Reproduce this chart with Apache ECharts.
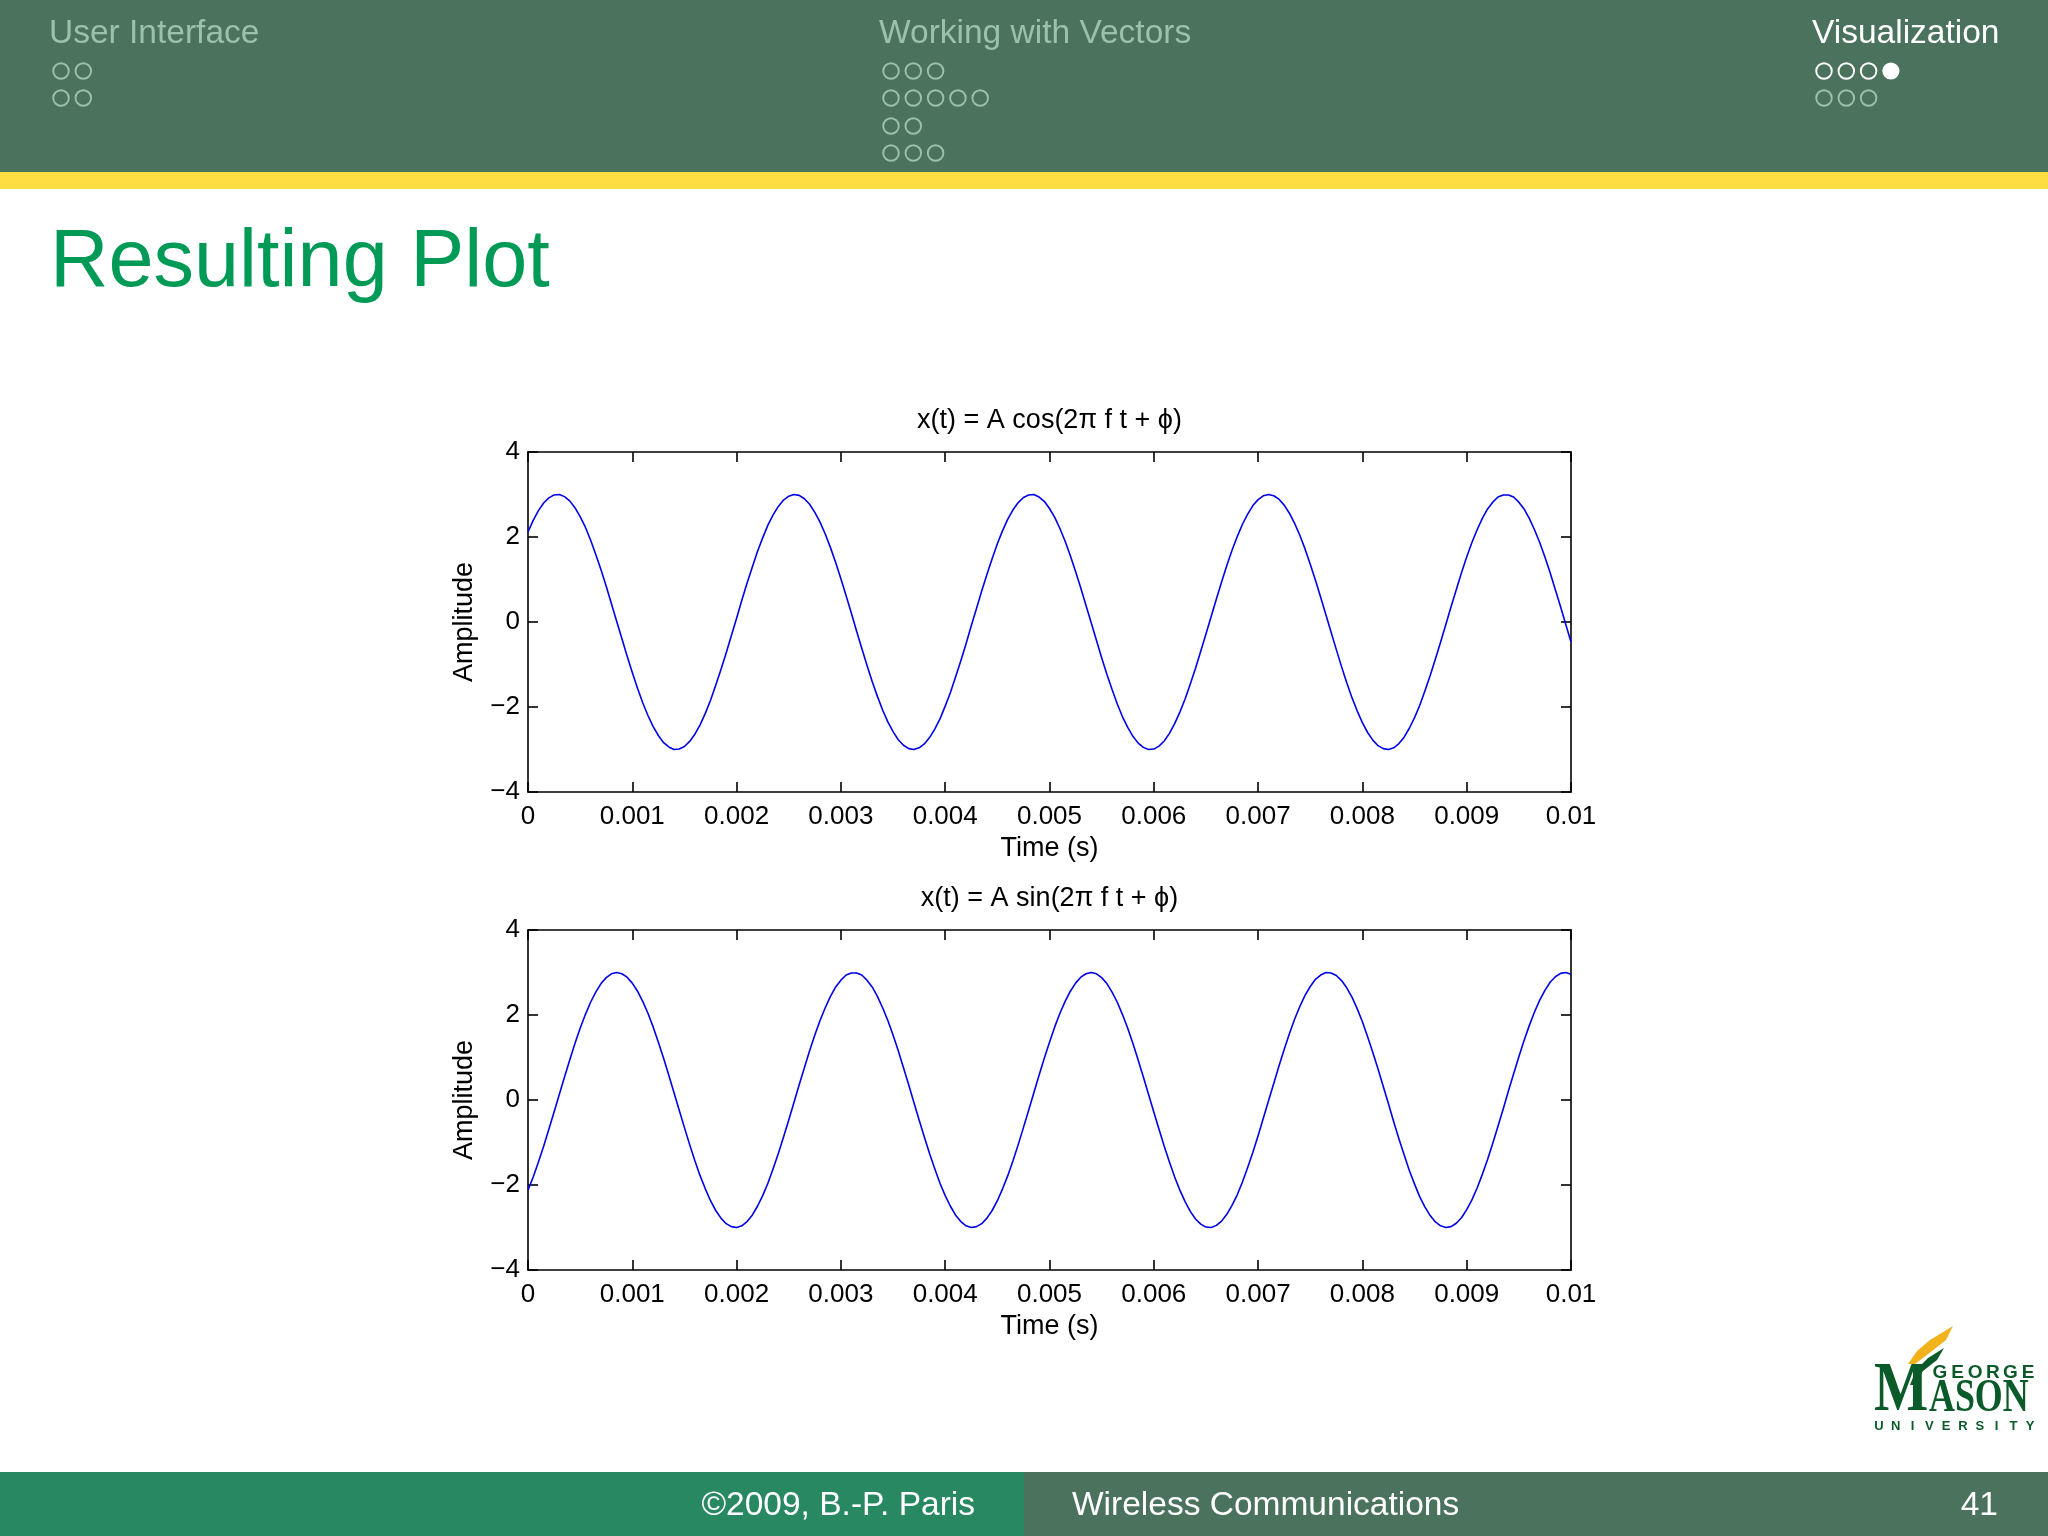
<!DOCTYPE html>
<html>
<head>
<meta charset="utf-8">
<script src="https://cdn.jsdelivr.net/npm/echarts@6/dist/echarts.min.js"></script>
<style>
html,body{margin:0;padding:0;background:#ffffff;}
#chart{width:2048px;height:1536px;}
</style>
</head>
<body>
<div id="chart"></div>
<script>
// ---------------- data ----------------
const time = [
  0,0.00005,0.0001,0.00015,0.0002,0.00025,0.0003,0.00035,0.0004,0.00045,
  0.0005,0.00055,0.0006,0.00065,0.0007,0.00075,0.0008,0.00085,0.0009,0.00095,
  0.001,0.00105,0.0011,0.00115,0.0012,0.00125,0.0013,0.00135,0.0014,0.00145,
  0.0015,0.00155,0.0016,0.00165,0.0017,0.00175,0.0018,0.00185,0.0019,0.00195,
  0.002,0.00205,0.0021,0.00215,0.0022,0.00225,0.0023,0.00235,0.0024,0.00245,
  0.0025,0.00255,0.0026,0.00265,0.0027,0.00275,0.0028,0.00285,0.0029,0.00295,
  0.003,0.00305,0.0031,0.00315,0.0032,0.00325,0.0033,0.00335,0.0034,0.00345,
  0.0035,0.00355,0.0036,0.00365,0.0037,0.00375,0.0038,0.00385,0.0039,0.00395,
  0.004,0.00405,0.0041,0.00415,0.0042,0.00425,0.0043,0.00435,0.0044,0.00445,
  0.0045,0.00455,0.0046,0.00465,0.0047,0.00475,0.0048,0.00485,0.0049,0.00495,
  0.005,0.00505,0.0051,0.00515,0.0052,0.00525,0.0053,0.00535,0.0054,0.00545,
  0.0055,0.00555,0.0056,0.00565,0.0057,0.00575,0.0058,0.00585,0.0059,0.00595,
  0.006,0.00605,0.0061,0.00615,0.0062,0.00625,0.0063,0.00635,0.0064,0.00645,
  0.0065,0.00655,0.0066,0.00665,0.0067,0.00675,0.0068,0.00685,0.0069,0.00695,
  0.007,0.00705,0.0071,0.00715,0.0072,0.00725,0.0073,0.00735,0.0074,0.00745,
  0.0075,0.00755,0.0076,0.00765,0.0077,0.00775,0.0078,0.00785,0.0079,0.00795,
  0.008,0.00805,0.0081,0.00815,0.0082,0.00825,0.0083,0.00835,0.0084,0.00845,
  0.0085,0.00855,0.0086,0.00865,0.0087,0.00875,0.0088,0.00885,0.0089,0.00895,
  0.009,0.00905,0.0091,0.00915,0.0092,0.00925,0.0093,0.00935,0.0094,0.00945,
  0.0095,0.00955,0.0096,0.00965,0.0097,0.00975,0.0098,0.00985,0.0099,0.00995,
  0.01
];
const cosValues = [
  2.12,2.39,2.62,2.80,2.92,2.99,3.00,2.95,2.85,2.69,
  2.48,2.23,1.93,1.59,1.23,0.84,0.43,0.02,-0.39,-0.80,
  -1.19,-1.56,-1.90,-2.20,-2.46,-2.67,-2.84,-2.94,-3.00,-2.99,
  -2.93,-2.81,-2.64,-2.42,-2.15,-1.84,-1.49,-1.12,-0.73,-0.32,
  0.09,0.51,0.91,1.29,1.66,1.98,2.28,2.52,2.72,2.87,
  2.96,3.00,2.98,2.90,2.77,2.58,2.35,2.07,1.75,1.40,
  1.02,0.62,0.21,-0.21,-0.62,-1.02,-1.40,-1.75,-2.07,-2.35,
  -2.58,-2.77,-2.90,-2.98,-3.00,-2.96,-2.87,-2.72,-2.52,-2.28,
  -1.98,-1.66,-1.29,-0.91,-0.51,-0.09,0.32,0.73,1.12,1.49,
  1.84,2.15,2.42,2.64,2.81,2.93,2.99,3.00,2.94,2.84,
  2.67,2.46,2.20,1.90,1.56,1.19,0.80,0.39,-0.02,-0.43,
  -0.84,-1.23,-1.59,-1.93,-2.23,-2.48,-2.69,-2.85,-2.95,-3.00,
  -2.99,-2.92,-2.80,-2.62,-2.39,-2.12,-1.81,-1.46,-1.09,-0.69,
  -0.28,0.13,0.54,0.94,1.33,1.69,2.01,2.30,2.54,2.74,
  2.88,2.97,3.00,2.97,2.89,2.75,2.56,2.32,2.04,1.72,
  1.36,0.98,0.58,0.17,-0.24,-0.65,-1.05,-1.43,-1.78,-2.09,
  -2.37,-2.60,-2.78,-2.91,-2.98,-3.00,-2.96,-2.86,-2.71,-2.50,
  -2.25,-1.96,-1.62,-1.26,-0.87,-0.47,-0.06,0.36,0.76,1.16,
  1.53,1.87,2.17,2.44,2.66,2.82,2.94,2.99,2.99,2.94,
  2.82,2.66,2.44,2.17,1.87,1.53,1.16,0.76,0.36,-0.06,
  -0.47
];
const sinValues = [
  -2.12,-1.81,-1.46,-1.09,-0.69,-0.28,0.13,0.54,0.94,1.33,
  1.69,2.01,2.30,2.54,2.74,2.88,2.97,3.00,2.97,2.89,
  2.75,2.56,2.32,2.04,1.72,1.36,0.98,0.58,0.17,-0.24,
  -0.65,-1.05,-1.43,-1.78,-2.09,-2.37,-2.60,-2.78,-2.91,-2.98,
  -3.00,-2.96,-2.86,-2.71,-2.50,-2.25,-1.96,-1.62,-1.26,-0.87,
  -0.47,-0.06,0.36,0.76,1.16,1.53,1.87,2.17,2.44,2.66,
  2.82,2.94,2.99,2.99,2.94,2.82,2.66,2.44,2.17,1.87,
  1.53,1.16,0.76,0.36,-0.06,-0.47,-0.87,-1.26,-1.62,-1.96,
  -2.25,-2.50,-2.71,-2.86,-2.96,-3.00,-2.98,-2.91,-2.78,-2.60,
  -2.37,-2.09,-1.78,-1.43,-1.05,-0.65,-0.24,0.17,0.58,0.98,
  1.36,1.72,2.04,2.32,2.56,2.75,2.89,2.97,3.00,2.97,
  2.88,2.74,2.54,2.30,2.01,1.69,1.33,0.94,0.54,0.13,
  -0.28,-0.69,-1.09,-1.46,-1.81,-2.12,-2.39,-2.62,-2.80,-2.92,
  -2.99,-3.00,-2.95,-2.85,-2.69,-2.48,-2.23,-1.93,-1.59,-1.23,
  -0.84,-0.43,-0.02,0.39,0.80,1.19,1.56,1.90,2.20,2.46,
  2.67,2.84,2.94,3.00,2.99,2.93,2.81,2.64,2.42,2.15,
  1.84,1.49,1.12,0.73,0.32,-0.09,-0.51,-0.91,-1.29,-1.66,
  -1.98,-2.28,-2.52,-2.72,-2.87,-2.96,-3.00,-2.98,-2.90,-2.77,
  -2.58,-2.35,-2.07,-1.75,-1.40,-1.02,-0.62,-0.21,0.21,0.62,
  1.02,1.40,1.75,2.07,2.35,2.58,2.77,2.90,2.98,3.00,
  2.96
];
const xTickValues = [0,0.001,0.002,0.003,0.004,0.005,0.006,0.007,0.008,0.009,0.01];
const xTickLabels = ['0','0.001','0.002','0.003','0.004','0.005','0.006','0.007','0.008','0.009','0.01'];
const yTickValues = [-4,-2,0,2,4];
const yTickLabels = ['\u22124','\u22122','0','2','4'];
const plotTitles = ['x(t) = A cos(2\u03C0 f t + \u03D5)', 'x(t) = A sin(2\u03C0 f t + \u03D5)'];
const xAxisName = 'Time (s)';
const yAxisName = 'Amplitude';

// slide text
const slideTitle = 'Resulting Plot';
const sectionNames = ['User Interface', 'Working with Vectors', 'Visualization'];
const sectionDots = [[2,2],[3,5,2,3],[4,3]];
const footerLeft = '\u00A92009, B.-P. Paris';
const footerMid = 'Wireless Communications';
const footerPage = '41';

// ---------------- layout / style ----------------
const FONT = '"Liberation Sans", Arial, Helvetica, sans-serif';
const SERIF = '"Liberation Serif", "Times New Roman", serif';
const HEADER_GREEN = '#4a725d';
const FOOTER_GREEN = '#288862';
const YELLOW = '#fedd43';
const INACTIVE = '#9cc0a9';
const TITLE_GREEN = '#009a57';

const grids = [
  {left: 528, top: 452, width: 1043, height: 340},
  {left: 528, top: 930, width: 1043, height: 340}
];

function xLabel(v){
  const i = xTickValues.findIndex(t => Math.abs(t - v) < 1e-9);
  return i >= 0 ? xTickLabels[i] : '';
}
function yLabel(v){
  const i = yTickValues.findIndex(t => Math.abs(t - v) < 1e-9);
  return i >= 0 ? yTickLabels[i] : '';
}

const axisLineStyle = {color: '#000', width: 1.6};
const xAxes = [], yAxes = [], series = [], titles = [];
const seriesValues = [cosValues, sinValues];

grids.forEach((g, gi) => {
  xAxes.push({
    type: 'value', gridIndex: gi, min: 0, max: 0.01, interval: 0.001, position: 'bottom',
    axisLine: {show: true, onZero: false, lineStyle: axisLineStyle},
    axisTick: {show: true, inside: true, length: 10, lineStyle: axisLineStyle},
    axisLabel: {show: true, formatter: xLabel, fontSize: 26, color: '#000', fontFamily: FONT, margin: 12, hideOverlap: false, showMinLabel: true, showMaxLabel: true},
    splitLine: {show: false},
    name: xAxisName, nameLocation: 'middle', nameGap: 43,
    nameTextStyle: {fontSize: 27, color: '#000', fontFamily: FONT}
  });
  xAxes.push({
    type: 'value', gridIndex: gi, min: 0, max: 0.01, interval: 0.001, position: 'top',
    axisLine: {show: true, onZero: false, lineStyle: axisLineStyle},
    axisTick: {show: true, inside: true, length: 10, lineStyle: axisLineStyle},
    axisLabel: {show: false},
    splitLine: {show: false}
  });
  yAxes.push({
    type: 'value', gridIndex: gi, min: -4, max: 4, interval: 2, position: 'left',
    axisLine: {show: true, onZero: false, lineStyle: axisLineStyle},
    axisTick: {show: true, inside: true, length: 10, lineStyle: axisLineStyle},
    axisLabel: {show: true, formatter: yLabel, fontSize: 26, color: '#000', fontFamily: FONT, margin: 8, hideOverlap: false, showMinLabel: true, showMaxLabel: true},
    splitLine: {show: false},
    name: yAxisName, nameLocation: 'middle', nameGap: 50, nameRotate: 90,
    nameTextStyle: {fontSize: 27, color: '#000', fontFamily: FONT}
  });
  yAxes.push({
    type: 'value', gridIndex: gi, min: -4, max: 4, interval: 2, position: 'right',
    axisLine: {show: true, onZero: false, lineStyle: axisLineStyle},
    axisTick: {show: true, inside: true, length: 10, lineStyle: axisLineStyle},
    axisLabel: {show: false},
    splitLine: {show: false}
  });
  series.push({
    type: 'line', xAxisIndex: gi * 2, yAxisIndex: gi * 2,
    data: time.map((t, i) => [t, seriesValues[gi][i]]),
    showSymbol: false, smooth: false, clip: true,
    lineStyle: {color: '#0000e8', width: 1.6, join: 'round'},
    silent: true
  });
  titles.push({
    text: plotTitles[gi], left: g.left + g.width / 2, top: g.top - 45, textAlign: 'center', padding: 0,
    textStyle: {fontSize: 27, fontWeight: 'normal', color: '#000', fontFamily: FONT}
  });
});

// ---------------- slide decoration (graphic) ----------------
const graphic = [];
graphic.push({type: 'rect', shape: {x: 0, y: 0, width: 2048, height: 172}, style: {fill: HEADER_GREEN}, silent: true});
graphic.push({type: 'rect', shape: {x: 0, y: 172, width: 2048, height: 17}, style: {fill: YELLOW}, silent: true});
graphic.push({type: 'rect', shape: {x: 0, y: 1472, width: 1024, height: 64}, style: {fill: FOOTER_GREEN}, silent: true});
graphic.push({type: 'rect', shape: {x: 1024, y: 1472, width: 1024, height: 64}, style: {fill: HEADER_GREEN}, silent: true});

const sectionX = [49, 879, 1812];
const activeSection = 2, activeDot = [0, 3];
const rowY = [71, 98, 126, 153];
sectionNames.forEach((name, si) => {
  const active = si === activeSection;
  graphic.push({type: 'text', silent: true, style: {
    x: sectionX[si], y: 34, text: name, font: '33.5px ' + FONT,
    fill: active ? '#ffffff' : INACTIVE, textAlign: 'left', textVerticalAlign: 'middle'}});
  sectionDots[si].forEach((n, ri) => {
    for (let k = 0; k < n; k++) {
      const isCur = active && ri === activeDot[0] && k === activeDot[1];
      const col = (active && ri === activeDot[0]) ? '#ffffff' : INACTIVE;
      graphic.push({type: 'circle', silent: true,
        shape: {cx: sectionX[si] + 12 + k * 22.3, cy: rowY[ri], r: 7.8},
        style: isCur ? {fill: '#ffffff', stroke: '#ffffff', lineWidth: 1.6} : {fill: 'none', stroke: col, lineWidth: 1.9}});
    }
  });
});

graphic.push({type: 'text', silent: true, style: {
  x: 50, y: 264, text: slideTitle, font: '81px ' + FONT, fill: TITLE_GREEN, textAlign: 'left', textVerticalAlign: 'middle'}});

graphic.push({type: 'text', silent: true, style: {
  x: 975, y: 1506, text: footerLeft, font: '33.5px ' + FONT, fill: '#ffffff', textAlign: 'right', textVerticalAlign: 'middle'}});
graphic.push({type: 'text', silent: true, style: {
  x: 1072, y: 1506, text: footerMid, font: '33.5px ' + FONT, fill: '#ffffff', textAlign: 'left', textVerticalAlign: 'middle'}});
graphic.push({type: 'text', silent: true, style: {
  x: 1998, y: 1506, text: footerPage, font: '33.5px ' + FONT, fill: '#ffffff', textAlign: 'right', textVerticalAlign: 'middle'}});

// George Mason logo (approximation)
const LOGO_GREEN = '#0b5a2a';
graphic.push({type: 'polygon', silent: true, shape: {points: [[1908,1364],[1917,1351],[1930,1340],[1953,1326],[1946,1340],[1932,1351],[1915,1364]]}, style: {fill: '#f2b21b'}});
graphic.push({type: 'polygon', silent: true, shape: {points: [[1910,1385],[1916,1370],[1928,1358],[1944,1348],[1937,1360],[1923,1371],[1915,1385]]}, style: {fill: LOGO_GREEN}});
graphic.push({type: 'text', silent: true, x: 1874, y: 1392, scaleX: 1.25, scaleY: 1.5, style: {
  x: 0, y: 0, text: 'M', font: 'bold 46px ' + SERIF, fill: LOGO_GREEN, textAlign: 'left', textVerticalAlign: 'middle'}});
graphic.push({type: 'text', silent: true, x: 1929, y: 1399, scaleX: 0.78, scaleY: 1, style: {
  x: 0, y: 0, text: 'ASON', font: 'bold 46px ' + SERIF, fill: LOGO_GREEN, textAlign: 'left', textVerticalAlign: 'middle'}});
'GEORGE'.split('').forEach((ch, i) => {
  graphic.push({type: 'text', silent: true, style: {
    x: 1940 + i * 17.6, y: 1373, text: ch, font: 'bold 19px ' + FONT, fill: LOGO_GREEN, textAlign: 'center', textVerticalAlign: 'middle'}});
});
'UNIVERSITY'.split('').forEach((ch, i) => {
  graphic.push({type: 'text', silent: true, style: {
    x: 1879 + i * 16.8, y: 1426, text: ch, font: 'bold 13px ' + FONT, fill: LOGO_GREEN, textAlign: 'center', textVerticalAlign: 'middle'}});
});

const chart = echarts.init(document.getElementById('chart'), null, {renderer: 'canvas', width: 2048, height: 1536});
chart.setOption({
  backgroundColor: '#ffffff',
  animation: false,
  title: titles,
  grid: grids,
  xAxis: xAxes,
  yAxis: yAxes,
  series: series,
  graphic: graphic
});
</script>
</body>
</html>
